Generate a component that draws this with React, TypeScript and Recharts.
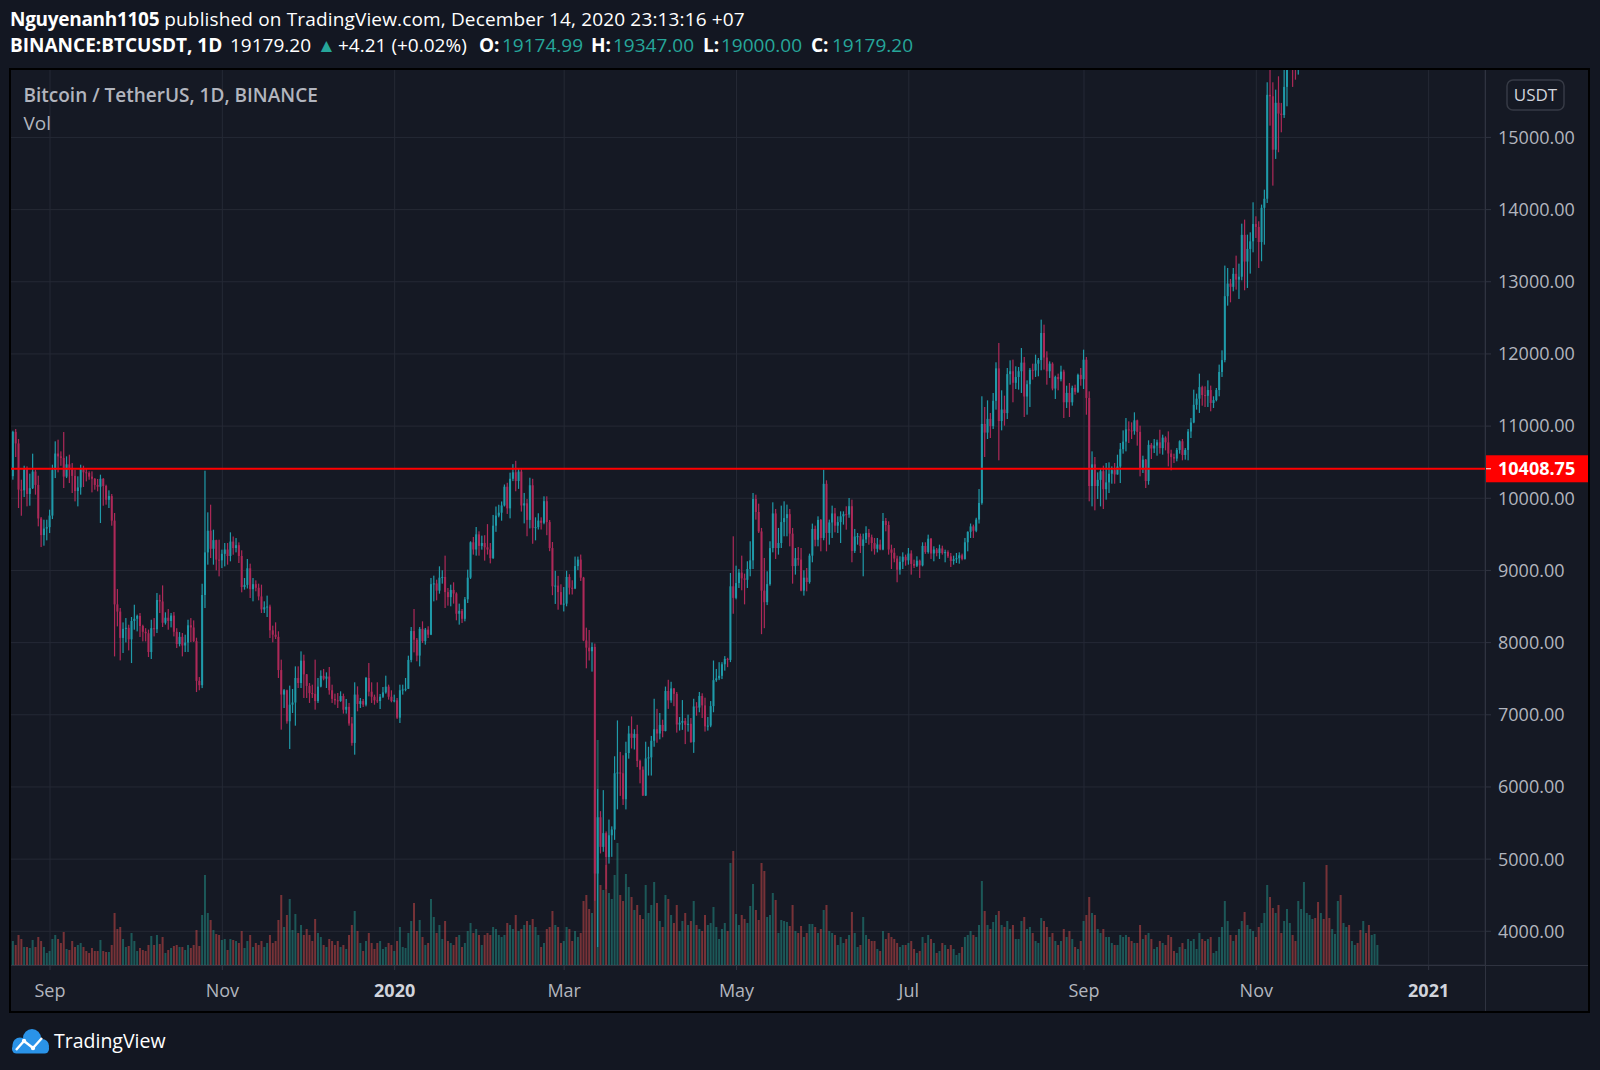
import React from "react";
import {
  Bar,
  CartesianGrid,
  ComposedChart,
  ReferenceLine,
  XAxis,
  YAxis,
} from "recharts";

// one row per day: [open, high, low, close, volume (k BTC)]
type Day = [number, number, number, number, number];

const firstDate = "2019-08-18";

const aug2019: Day[] = [
  [10216, 10512, 10073, 10306, 22], [10306, 10936, 10257, 10920, 24], [10920, 10960, 10572, 10760, 20],
  [10760, 10821, 9865, 10120, 30], [10120, 10257, 9758, 10110, 26], [10110, 10451, 10017, 10400, 18],
  [10400, 10442, 9888, 10060, 18], [10060, 10341, 9897, 10140, 17], [10140, 10618, 10128, 10370, 25],
  [10370, 10396, 10050, 10185, 18], [10185, 10313, 9611, 9720, 28], [9720, 9740, 9324, 9490, 24],
  [9490, 9703, 9343, 9580, 18], [9580, 9703, 9417, 9600, 12],
];
const sep2019: Day[] = [
  [9600, 9842, 9518, 9760, 14], [9760, 10465, 9712, 10390, 26], [10390, 10789, 10280, 10620, 30],
  [10620, 10812, 10359, 10580, 26], [10580, 10650, 10450, 10560, 22], [10560, 10918, 10142, 10300, 33],
  [10300, 10581, 10280, 10470, 16], [10470, 10604, 10211, 10400, 15], [10400, 10488, 10073, 10310, 24],
  [10310, 10396, 9957, 10100, 18], [10100, 10304, 9888, 10150, 20], [10150, 10465, 10050, 10420, 22],
  [10420, 10451, 10156, 10360, 18], [10360, 10419, 10234, 10350, 14], [10350, 10373, 10257, 10300, 12],
  [10300, 10373, 10082, 10270, 17], [10270, 10280, 10119, 10185, 14], [10185, 10267, 10096, 10160, 14],
  [10160, 10327, 9657, 10270, 25], [10270, 10280, 9897, 10170, 14], [10170, 10188, 9911, 9980, 13],
  [9980, 10110, 9865, 10030, 13], [10030, 10059, 9620, 9690, 20], [9690, 9796, 7809, 8530, 52],
  [8530, 8742, 8225, 8430, 36], [8430, 8480, 7754, 8065, 38], [8065, 8280, 7856, 8190, 26],
  [8190, 8340, 8003, 8205, 18], [8205, 8248, 7892, 8045, 19], [8045, 8355, 7717, 8300, 32],
];
const oct2019: Day[] = [
  [8300, 8525, 8179, 8330, 24], [8330, 8387, 8156, 8370, 14], [8370, 8410, 8078, 8230, 17],
  [8230, 8248, 8017, 8150, 15], [8150, 8200, 8017, 8130, 14], [8130, 8180, 7800, 7870, 20],
  [7870, 8317, 7773, 8200, 29], [8200, 8340, 8086, 8185, 20], [8185, 8687, 8133, 8590, 30],
  [8590, 8664, 8410, 8570, 21], [8570, 8793, 8216, 8275, 28], [8275, 8420, 8250, 8345, 12],
  [8345, 8465, 8179, 8300, 15], [8300, 8410, 8211, 8375, 17], [8375, 8424, 8086, 8150, 19],
  [8150, 8200, 7925, 7980, 20], [7980, 8146, 7948, 8080, 18], [8080, 8133, 7809, 7960, 18],
  [7960, 8110, 7870, 8000, 15], [8000, 8317, 7870, 8240, 20], [8240, 8340, 8008, 8210, 17],
  [8210, 8308, 8008, 8020, 20], [8020, 8068, 7315, 7470, 35], [7470, 7523, 7340, 7410, 19],
  [7410, 8816, 7370, 8660, 50], [8660, 10382, 8479, 9250, 90], [9250, 9805, 9080, 9550, 52],
  [9550, 9911, 9172, 9300, 45], [9300, 9565, 9080, 9420, 35], [9420, 9426, 9001, 9150, 31],
  [9150, 9426, 8918, 9140, 30],
];
const nov2019: Day[] = [
  [9140, 9288, 9033, 9230, 25], [9230, 9380, 9056, 9290, 26], [9290, 9380, 9080, 9200, 15],
  [9200, 9528, 9126, 9400, 26], [9400, 9470, 9218, 9310, 25], [9310, 9449, 9250, 9350, 24],
  [9350, 9389, 9103, 9200, 22], [9200, 9279, 8697, 8770, 34], [8770, 8895, 8734, 8800, 17],
  [8800, 9159, 8750, 9030, 24], [9030, 9094, 8618, 8740, 30], [8740, 8895, 8572, 8810, 18],
  [8810, 8863, 8711, 8760, 22], [8760, 8817, 8586, 8640, 20], [8640, 8803, 8410, 8460, 24],
  [8460, 8572, 8410, 8490, 18], [8490, 8651, 8355, 8500, 22], [8500, 8526, 8064, 8170, 30],
  [8170, 8235, 8004, 8110, 22], [8110, 8281, 8050, 8080, 24], [8080, 8157, 7510, 7620, 45],
  [7620, 7764, 6794, 7280, 70], [7280, 7357, 7094, 7340, 38], [7340, 7348, 6877, 6910, 50],
  [6910, 7404, 6526, 7140, 66], [7140, 7357, 7025, 7170, 35], [7170, 7671, 6849, 7510, 51],
  [7510, 7671, 7371, 7440, 32], [7440, 7879, 7371, 7750, 40], [7750, 7833, 7233, 7560, 30],
];
const dec2019: Day[] = [
  [7560, 7565, 7233, 7400, 36], [7400, 7440, 7164, 7300, 30], [7300, 7417, 7233, 7290, 24],
  [7290, 7764, 7071, 7190, 46], [7190, 7510, 7164, 7390, 32], [7390, 7616, 7380, 7540, 28],
  [7540, 7635, 7478, 7500, 20], [7500, 7588, 7371, 7530, 18], [7530, 7662, 7279, 7340, 26],
  [7340, 7417, 7164, 7220, 24], [7220, 7293, 7140, 7200, 20], [7200, 7302, 7094, 7190, 24],
  [7190, 7325, 7180, 7260, 18], [7260, 7293, 7016, 7070, 20], [7070, 7219, 7016, 7110, 16],
  [7110, 7164, 6849, 6880, 30], [6880, 6969, 6572, 6610, 40], [6610, 7450, 6447, 7280, 54],
  [7280, 7394, 7048, 7150, 34], [7150, 7233, 7094, 7190, 22], [7190, 7219, 7108, 7140, 14],
  [7140, 7524, 7117, 7510, 24], [7510, 7718, 7256, 7320, 32], [7320, 7450, 7164, 7250, 22],
  [7250, 7279, 7140, 7200, 16], [7200, 7450, 7164, 7190, 22], [7190, 7288, 7080, 7250, 24],
  [7250, 7385, 7233, 7310, 16], [7310, 7542, 7293, 7390, 18], [7390, 7417, 7210, 7250, 22],
  [7250, 7339, 7173, 7190, 20],
];
const jan2020: Day[] = [
  [7190, 7279, 7173, 7200, 14], [7200, 7233, 6942, 6960, 24], [6960, 7417, 6886, 7340, 38],
  [7340, 7417, 7279, 7350, 18], [7350, 7510, 7325, 7360, 17], [7360, 7819, 7357, 7760, 32],
  [7760, 8216, 7727, 8160, 44], [8160, 8466, 7865, 8040, 62], [8040, 8064, 7741, 7820, 34],
  [7820, 8216, 7671, 8190, 45], [8190, 8295, 7995, 8020, 28], [8020, 8203, 7972, 8180, 20],
  [8180, 8226, 8064, 8110, 22], [8110, 8895, 8104, 8810, 66], [8810, 8928, 8572, 8820, 48],
  [8820, 8872, 8586, 8720, 32], [8720, 9057, 8678, 8900, 40], [8900, 9002, 8817, 8910, 26],
  [8910, 9205, 8480, 8700, 44], [8700, 8757, 8512, 8630, 24], [8630, 8803, 8503, 8730, 22],
  [8730, 8836, 8540, 8680, 20], [8680, 8697, 8309, 8400, 28], [8400, 8540, 8249, 8440, 30],
  [8440, 8466, 8272, 8330, 18], [8330, 8632, 8295, 8600, 22], [8600, 9011, 8549, 8900, 34],
  [8900, 9404, 8882, 9390, 42], [9390, 9464, 9219, 9290, 32], [9290, 9602, 9205, 9500, 36],
  [9500, 9542, 9205, 9340, 30],
];
const feb2020: Day[] = [
  [9340, 9482, 9288, 9380, 20], [9380, 9488, 9136, 9320, 30], [9320, 9642, 9220, 9290, 32],
  [9290, 9380, 9098, 9170, 30], [9170, 9769, 9160, 9620, 38], [9620, 9886, 9535, 9760, 36],
  [9760, 9910, 9736, 9800, 30], [9800, 9956, 9689, 9900, 28], [9900, 10191, 9886, 10160, 30],
  [10160, 10215, 9783, 9860, 42], [9860, 10355, 9722, 10270, 40], [10270, 10473, 10238, 10360, 36],
  [10360, 10519, 10097, 10240, 50], [10240, 10412, 10130, 10370, 34], [10370, 10402, 9816, 9900, 36],
  [9900, 10074, 9652, 9930, 40], [9930, 9989, 9474, 9700, 44], [9700, 10285, 9582, 10180, 40],
  [10180, 10270, 9370, 9590, 46], [9590, 9736, 9417, 9600, 38], [9600, 9792, 9567, 9690, 30],
  [9690, 9736, 9567, 9660, 18], [9660, 10027, 9640, 9960, 22], [9960, 10027, 9488, 9670, 36],
  [9670, 9699, 9267, 9310, 38], [9310, 9394, 8657, 8780, 54], [8780, 8995, 8536, 8790, 40],
  [8790, 8925, 8456, 8700, 38], [8700, 8808, 8520, 8530, 22],
];
const mar2020: Day[] = [
  [8530, 8770, 8432, 8540, 24], [8540, 8995, 8503, 8910, 38], [8910, 8948, 8667, 8760, 36],
  [8760, 8864, 8667, 8750, 24], [8750, 9192, 8741, 9060, 34], [9060, 9192, 9005, 9150, 28],
  [9150, 9220, 8855, 8900, 32], [8900, 8911, 8020, 8030, 64], [8030, 8207, 7644, 7930, 70],
  [7930, 8175, 7752, 7880, 56], [7880, 8001, 7598, 7940, 52], [7940, 7987, 4422, 4800, 175],
  [4800, 5970, 3782, 5580, 225], [5580, 5665, 5079, 5170, 80], [5170, 5956, 5102, 5360, 75],
  [5360, 5384, 4587, 5030, 100], [5030, 5548, 4938, 5330, 72], [5330, 5454, 5032, 5410, 66],
  [5410, 6425, 5267, 6190, 90], [6190, 6922, 5689, 6200, 122], [6200, 6486, 5876, 6190, 70],
  [6190, 6439, 5750, 5830, 64], [5830, 6627, 5689, 6470, 91], [6470, 6847, 6392, 6740, 78],
  [6740, 6978, 6533, 6680, 68], [6680, 6800, 6519, 6735, 55], [6735, 6861, 6275, 6360, 60],
  [6360, 6378, 6050, 6240, 50], [6240, 6284, 5876, 5880, 46], [5880, 6627, 5876, 6395, 80],
  [6395, 6557, 6158, 6410, 52],
];
const apr2020: Day[] = [
  [6410, 6707, 6158, 6640, 60], [6640, 7222, 6557, 6800, 83], [6800, 7082, 6613, 6740, 62],
  [6740, 7025, 6660, 6860, 44], [6860, 6932, 6688, 6775, 38], [6775, 7391, 6770, 7330, 70],
  [7330, 7485, 7082, 7200, 66], [7200, 7457, 7166, 7365, 50], [7365, 7370, 7119, 7290, 42],
  [7290, 7316, 6753, 6865, 60], [6865, 6969, 6781, 6890, 34], [6890, 7204, 6791, 6915, 44],
  [6915, 6955, 6594, 6860, 52], [6860, 7002, 6767, 6875, 40], [6875, 6955, 6613, 6620, 44],
  [6620, 7222, 6472, 7115, 64], [7115, 7175, 6987, 7100, 40], [7100, 7316, 7035, 7260, 36],
  [7260, 7298, 6955, 7130, 34], [7130, 7237, 6767, 6840, 50], [6840, 6969, 6781, 6850, 40],
  [6850, 7190, 6828, 7120, 42], [7120, 7752, 7035, 7480, 58], [7480, 7635, 7457, 7505, 38],
  [7505, 7729, 7480, 7540, 26], [7540, 7729, 7495, 7700, 36], [7700, 7813, 7612, 7775, 42],
  [7775, 7790, 7660, 7760, 34], [7760, 8965, 7730, 8780, 102], [8780, 9473, 8400, 8620, 114],
];
const may2020: Day[] = [
  [8620, 9066, 8600, 8825, 51], [8825, 9020, 8757, 8970, 40], [8970, 9205, 8725, 8890, 50],
  [8890, 8956, 8530, 8870, 46], [8870, 9127, 8757, 9020, 42], [9020, 9404, 8919, 9140, 59],
  [9140, 10073, 9020, 9990, 81], [9990, 10050, 9704, 9810, 55], [9810, 9925, 9519, 9540, 45],
  [9540, 9589, 8117, 8720, 102], [8720, 9173, 8200, 8560, 94], [8560, 8988, 8520, 8810, 48],
  [8810, 9404, 8789, 9310, 50], [9310, 9944, 9251, 9790, 72], [9790, 9852, 9159, 9310, 65],
  [9310, 9589, 9219, 9380, 32], [9380, 9898, 9311, 9670, 45], [9670, 9958, 9473, 9725, 44],
  [9725, 9912, 9473, 9780, 43], [9780, 9852, 9334, 9510, 39], [9510, 9589, 8817, 9060, 60],
  [9060, 9311, 8942, 9170, 34], [9170, 9325, 9066, 9150, 32], [9150, 9311, 8711, 8720, 39],
  [8720, 9002, 8651, 8900, 28], [8900, 9034, 8711, 8840, 32], [8840, 9233, 8817, 9205, 41],
  [9205, 9649, 9113, 9575, 41], [9575, 9621, 9334, 9425, 38], [9425, 9750, 9334, 9700, 32],
  [9700, 9713, 9265, 9450, 36],
];
const jun2020: Day[] = [
  [9450, 10397, 9418, 10200, 55], [10200, 10249, 9265, 9520, 60], [9520, 9704, 9357, 9665, 34],
  [9665, 9898, 9450, 9790, 32], [9790, 9866, 9528, 9620, 30], [9620, 9750, 9519, 9670, 20],
  [9670, 9819, 9380, 9750, 28], [9750, 9819, 9635, 9780, 22], [9780, 9889, 9565, 9775, 26],
  [9775, 10004, 9730, 9890, 30], [9890, 9981, 9113, 9270, 53], [9270, 9575, 9242, 9470, 32],
  [9470, 9519, 9357, 9475, 18], [9475, 9510, 9242, 9340, 20], [9340, 9510, 8919, 9430, 48],
  [9430, 9612, 9380, 9520, 30], [9520, 9575, 9357, 9460, 26], [9460, 9496, 9265, 9380, 24],
  [9380, 9450, 9219, 9300, 24], [9300, 9450, 9250, 9360, 16], [9360, 9427, 9280, 9290, 14],
  [9290, 9796, 9280, 9685, 34], [9685, 9727, 9542, 9630, 26], [9630, 9681, 9219, 9290, 32],
  [9290, 9357, 9020, 9245, 28], [9245, 9311, 9113, 9165, 26], [9165, 9205, 8836, 9010, 22],
  [9010, 9196, 8942, 9120, 18], [9120, 9251, 9020, 9190, 20], [9190, 9219, 9066, 9140, 20],
];
const jul2020: Day[] = [
  [9140, 9311, 9080, 9235, 22], [9235, 9279, 8942, 9090, 24], [9090, 9150, 9034, 9065, 16],
  [9065, 9196, 9048, 9135, 12], [9135, 9150, 8896, 9070, 14], [9070, 9390, 9057, 9340, 28],
  [9340, 9390, 9230, 9255, 22], [9255, 9496, 9233, 9440, 30], [9440, 9450, 9159, 9235, 26],
  [9235, 9334, 9127, 9290, 22], [9290, 9311, 9196, 9240, 12], [9240, 9357, 9159, 9305, 14],
  [9305, 9343, 9219, 9240, 22], [9240, 9288, 9113, 9255, 20], [9255, 9279, 9173, 9195, 16],
  [9195, 9242, 9048, 9130, 20], [9130, 9205, 9080, 9155, 16], [9155, 9242, 9103, 9170, 10],
  [9170, 9251, 9094, 9210, 12], [9210, 9233, 9140, 9160, 18], [9160, 9450, 9150, 9390, 28],
  [9390, 9542, 9265, 9535, 30], [9535, 9650, 9450, 9610, 34], [9610, 9635, 9450, 9550, 30],
  [9550, 9730, 9530, 9705, 28], [9705, 10128, 9650, 9935, 40], [9935, 11413, 9911, 11030, 84],
  [11030, 11265, 10572, 10910, 54], [10910, 11357, 10821, 11100, 40], [11100, 11182, 10835, 11000, 36],
  [11000, 11459, 10960, 11350, 43],
];
const aug2020: Day[] = [
  [11350, 11884, 11228, 11800, 50], [11800, 12152, 10526, 11070, 54], [11070, 11496, 10941, 11230, 40],
  [11230, 11422, 11006, 11180, 38], [11180, 11805, 11098, 11720, 44], [11720, 11911, 11574, 11760, 36],
  [11760, 11921, 11330, 11600, 40], [11600, 11828, 11514, 11680, 26], [11680, 11819, 11505, 11760, 26],
  [11760, 12082, 11459, 11880, 44], [11880, 11958, 11126, 11410, 48], [11410, 11634, 11158, 11580, 36],
  [11580, 11805, 11265, 11780, 38], [11780, 11865, 11644, 11770, 32], [11770, 11990, 11681, 11865, 24],
  [11865, 11944, 11690, 11915, 22], [11915, 12475, 11773, 12290, 47], [12290, 12406, 11782, 11950, 44],
  [11950, 12036, 11574, 11760, 38], [11760, 11897, 11667, 11865, 28], [11865, 11884, 11496, 11520, 32],
  [11520, 11699, 11376, 11680, 24], [11680, 11727, 11496, 11650, 20], [11650, 11837, 11620, 11755, 24],
  [11755, 11782, 11112, 11330, 36], [11330, 11560, 11251, 11460, 28], [11460, 11597, 11126, 11330, 34],
  [11330, 11560, 11283, 11530, 26], [11530, 11574, 11436, 11475, 18], [11475, 11727, 11459, 11710, 16],
  [11710, 11805, 11560, 11650, 24],
];
const sep2020: Day[] = [
  [11650, 12059, 11514, 11920, 44], [11920, 11958, 11158, 11390, 50], [11390, 11482, 9958, 10170, 68],
  [10170, 10650, 9888, 10470, 52], [10470, 10572, 9833, 10170, 50], [10170, 10359, 9990, 10255, 36],
  [10255, 10419, 9888, 10375, 32], [10375, 10452, 9851, 10125, 36], [10125, 10489, 9981, 10220, 28],
  [10220, 10498, 10073, 10340, 28], [10340, 10442, 10202, 10390, 22], [10390, 10489, 10202, 10330, 20],
  [10330, 10604, 10327, 10440, 20], [10440, 10766, 10211, 10680, 30], [10680, 10941, 10618, 10785, 28],
  [10785, 11112, 10650, 10955, 30], [10955, 11066, 10766, 10940, 28], [10940, 11052, 10821, 10930, 24],
  [10930, 11191, 10881, 11080, 22], [11080, 11089, 10729, 10920, 22], [10920, 11006, 10304, 10420, 40],
  [10420, 10590, 10350, 10535, 26], [10535, 10544, 10142, 10240, 30], [10240, 10803, 10188, 10740, 32],
  [10740, 10766, 10544, 10690, 26], [10690, 10821, 10627, 10730, 16], [10730, 10812, 10590, 10775, 18],
  [10775, 10950, 10618, 10695, 24], [10695, 10881, 10604, 10840, 22], [10840, 10858, 10664, 10775, 20],
];
const oct2020: Day[] = [
  [10775, 10927, 10442, 10620, 30], [10620, 10673, 10387, 10570, 28], [10570, 10618, 10489, 10550, 14],
  [10550, 10696, 10512, 10670, 12], [10670, 10803, 10618, 10790, 18], [10790, 10821, 10526, 10600, 22],
  [10600, 10696, 10535, 10670, 16], [10670, 10960, 10526, 10925, 26], [10925, 11112, 10835, 11050, 24],
  [11050, 11505, 11040, 11295, 26], [11295, 11450, 11228, 11380, 16], [11380, 11727, 11182, 11540, 32],
  [11540, 11560, 11283, 11430, 26], [11430, 11551, 11265, 11420, 24], [11420, 11634, 11265, 11500, 26],
  [11500, 11561, 11205, 11320, 28], [11320, 11413, 11251, 11360, 12], [11360, 11528, 11343, 11500, 14],
  [11500, 11852, 11413, 11750, 28], [11750, 12050, 11681, 11915, 38], [11915, 13224, 11884, 12800, 64],
  [12800, 13191, 12669, 12975, 44], [12975, 13039, 12715, 12930, 30], [12930, 13191, 12868, 13110, 24],
  [13110, 13362, 12891, 13030, 30], [13030, 13251, 12762, 13070, 36], [13070, 13805, 13020, 13650, 44],
  [13650, 13861, 12882, 13280, 53], [13280, 13653, 12914, 13455, 40], [13455, 13685, 13113, 13560, 36],
  [13560, 14101, 13408, 13800, 34],
];
const nov2020: Day[] = [
  [13800, 13907, 13607, 13760, 28], [13760, 13838, 13191, 13550, 38], [13550, 14069, 13284, 14025, 42],
  [14025, 14276, 13514, 14150, 52], [14150, 15764, 14092, 15590, 80], [15590, 15970, 15163, 15570, 68],
  [15570, 15764, 14332, 14830, 57], [14830, 15662, 14702, 15480, 52], [15480, 15847, 14794, 15330, 60],
  [15330, 15478, 15071, 15310, 32], [15310, 16000, 15270, 15700, 44], [15700, 16340, 15431, 16290, 56],
  [16290, 16480, 15960, 16320, 42], [16320, 16330, 15700, 16070, 30], [16070, 16140, 15800, 15960, 24],
  [15960, 16880, 15870, 16730, 64], [16730, 17860, 16560, 17660, 56], [17660, 18480, 17220, 17780, 83],
  [17780, 18180, 17340, 17820, 52], [17820, 18820, 17760, 18660, 50], [18660, 18965, 18020, 18700, 46],
  [18700, 18750, 17610, 18420, 47], [18420, 18770, 18000, 18370, 63], [18370, 19420, 18020, 19160, 52],
  [19160, 19480, 18500, 18720, 46], [18720, 19000, 16190, 17150, 100], [17150, 17460, 16460, 17140, 47],
  [17140, 17850, 16880, 17720, 36], [17720, 18350, 17520, 18180, 31], [18180, 19860, 18180, 19700, 64],
];
const dec2020: Day[] = [
  [19700, 19920, 18320, 18765, 70], [18765, 19310, 18500, 19205, 42], [19205, 19570, 18930, 19425, 38],
  [19425, 19500, 18570, 18650, 40], [18650, 19180, 18500, 19150, 24], [19150, 19420, 18860, 19360, 20],
  [19360, 19390, 18900, 19170, 22], [19170, 19290, 18200, 18320, 35], [18320, 18640, 17650, 18550, 44],
  [18550, 18560, 17910, 18250, 32], [18250, 18290, 17570, 18030, 40], [18030, 18950, 18020, 18800, 30],
  [18800, 19410, 18700, 19170, 31], [19174.99, 19347, 19000, 19179.2, 20],
];

const months = [
  aug2019, sep2019, oct2019, nov2019, dec2019, jan2020, feb2020, mar2020, apr2020,
  may2020, jun2020, jul2020, aug2020, sep2020, oct2020, nov2020, dec2020,
];

const priceTicks = [4000, 5000, 6000, 7000, 8000, 9000, 10000, 11000, 12000, 13000, 14000, 15000];
const tickDates = [
  "2019-09-01", "2019-11-01", "2020-01-01", "2020-03-01", "2020-05-01",
  "2020-07-01", "2020-09-01", "2020-11-01", "2021-01-01",
];
const tickLabels = ["Sep", "Nov", "2020", "Mar", "May", "Jul", "Sep", "Nov", "2021"];
const markLevel = 10408.75;

const UP = "#1f9aa9";
const DOWN = "#ad2958";
const VOL_UP = "rgba(38,166,154,0.45)";
const VOL_DOWN = "rgba(239,83,80,0.45)";
const GRID = "#252935";
const SEP = "#2f3340";
const TEXT = "#b2b5be";
const FONT = "'Open Sans', 'Liberation Sans', sans-serif";

const dayMs = 86400000;
const t0 = Date.parse(firstDate + "T00:00:00Z");
const tickIdx = tickDates.map((d) => (Date.parse(d + "T00:00:00Z") - t0) / dayMs);

const rows = months.flat().map((d, i) => ({
  i,
  o: d[0],
  h: d[1],
  l: d[2],
  c: d[3],
  v: d[4],
  hl: [d[2], d[1]],
}));

const last = rows[rows.length - 1];
const chg = last.c - last.o;
const chgPct = (chg / last.o) * 100;

const Candle = (props: any) => {
  const { x, y, width, height, payload } = props;
  if (x == null || y == null || !payload) return null;
  const top = Math.min(y, y + height);
  const bottom = Math.max(y, y + height);
  const span = payload.h - payload.l || 1;
  const py = (v: number) => top + ((payload.h - v) / span) * (bottom - top);
  const cx = x + width / 2;
  const color = payload.c >= payload.o ? UP : DOWN;
  const b1 = py(Math.max(payload.o, payload.c));
  const b2 = py(Math.min(payload.o, payload.c));
  return (
    <g>
      <rect x={cx - 0.6} y={top} width={1.2} height={Math.max(bottom - top, 1)} fill={color} />
      <rect x={cx - 1} y={b1} width={2} height={Math.max(b2 - b1, 1)} fill={color} />
    </g>
  );
};

const VolBar = (props: any) => {
  const { x, y, width, height, payload } = props;
  if (x == null || !height) return null;
  const cx = x + width / 2;
  return (
    <rect
      x={cx - 1}
      y={Math.min(y, y + height)}
      width={2}
      height={Math.abs(height)}
      fill={payload.c >= payload.o ? VOL_UP : VOL_DOWN}
    />
  );
};

const TimeTick = (props: any) => {
  const { x, y, payload } = props;
  const k = tickIdx.indexOf(payload.value);
  const label = k >= 0 ? tickLabels[k] : "";
  const isYear = /^\d{4}$/.test(label);
  return (
    <text
      x={x}
      y={y + 27}
      textAnchor="middle"
      fill={isYear ? "#d1d4dc" : TEXT}
      fontSize={18}
      fontWeight={isYear ? 700 : 400}
      fontFamily={FONT}
    >
      {label}
    </text>
  );
};

const PriceTag = (props: any) => {
  const vb = props.viewBox || {};
  const x0 = (vb.x ?? 0) + (vb.width ?? 0);
  const yy = vb.y ?? 0;
  return (
    <g>
      <rect x={x0} y={yy - 13.5} width={104} height={27} fill="#ff0000" />
      <line x1={x0} x2={x0 + 6} y1={yy} y2={yy} stroke="#ffffff" strokeWidth={1} />
      <text x={x0 + 13} y={yy + 6.5} fill="#ffffff" fontSize={18} fontWeight={700} fontFamily={FONT}>
        {markLevel.toFixed(2)}
      </text>
    </g>
  );
};

const X0 = -0.16;
const X1 = 521.95;

const App = () => {
  return (
    <div
      style={{
        position: "absolute",
        left: 0,
        top: 0,
        width: 1600,
        height: 1070,
        background: "#131722",
        overflow: "hidden",
        fontFamily: FONT,
      }}
    >
      <div style={{ position: "absolute", left: 10, top: 69, width: 1580, height: 944, background: "#151924" }}>
        <ComposedChart
          width={1580}
          height={944}
          data={rows}
          margin={{ top: 0, right: 0, bottom: 0, left: 0 }}
        >
          <XAxis
            xAxisId="t"
            type="number"
            dataKey="i"
            domain={[X0, X1]}
            allowDataOverflow
            ticks={tickIdx}
            interval={0}
            tick={<TimeTick />}
            tickSize={5}
            tickMargin={0}
            height={48}
            axisLine={false}
            tickLine={{ stroke: SEP }}
          />
          <XAxis xAxisId="tv" type="number" dataKey="i" domain={[X0, X1]} allowDataOverflow hide />
          <YAxis
            yAxisId="p"
            orientation="right"
            domain={[3533, 15948]}
            allowDataOverflow
            ticks={priceTicks}
            interval={0}
            width={105}
            tickSize={6}
            tickMargin={7}
            tick={{ fill: TEXT, fontSize: 18, fontFamily: FONT }}
            tickFormatter={(v: number) => v.toFixed(2)}
            axisLine={false}
            tickLine={{ stroke: SEP }}
          />
          <YAxis yAxisId="v" domain={[0, 896]} allowDataOverflow hide />
          <CartesianGrid xAxisId="t" yAxisId="p" stroke={GRID} />
          <Bar
            xAxisId="tv"
            yAxisId="v"
            dataKey="v"
            barSize={2}
            shape={<VolBar />}
            isAnimationActive={false}
          />
          <Bar
            xAxisId="t"
            yAxisId="p"
            dataKey="hl"
            barSize={2}
            shape={<Candle />}
            isAnimationActive={false}
          />
          <ReferenceLine
            xAxisId="t"
            yAxisId="p"
            y={markLevel}
            stroke="#ff0000"
            strokeWidth={2}
            label={<PriceTag />}
          />
        </ComposedChart>
      </div>

      <svg
        width={1600}
        height={1070}
        style={{ position: "absolute", left: 0, top: 0, pointerEvents: "none" }}
        fontFamily={FONT}
      >
        {/* separators and frame */}
        <line x1={10} x2={1589} y1={965.5} y2={965.5} stroke={SEP} strokeWidth={1} />
        <line x1={1485.5} x2={1485.5} y1={69} y2={1012} stroke={SEP} strokeWidth={1} />
        <rect x={10} y={69} width={1579} height={943} fill="none" stroke="#000000" strokeWidth={2} />

        {/* header */}
        <text x={10} y={25.5} fontSize={19} fill="#ffffff">
          <tspan fontWeight={700} letterSpacing={-0.3}>Nguyenanh1105</tspan>
          <tspan letterSpacing={0.15}> published on TradingView.com, December 14, 2020 23:13:16 +07</tspan>
        </text>
        <text y={52} fontSize={19} fill="#ffffff">
          <tspan x={10} fontWeight={700}>BINANCE:BTCUSDT, 1D</tspan>
          <tspan x={230}>{last.c.toFixed(2)}</tspan>
          <tspan x={317} fill="#26a69a">▲</tspan>
          <tspan x={338}>{`+${chg.toFixed(2)} (+${chgPct.toFixed(2)}%)`}</tspan>
          <tspan x={479} fontWeight={700}>O:</tspan>
          <tspan x={502} fill="#26a69a">{last.o.toFixed(2)}</tspan>
          <tspan x={591} fontWeight={700}>H:</tspan>
          <tspan x={613} fill="#26a69a">{last.h.toFixed(2)}</tspan>
          <tspan x={703} fontWeight={700}>L:</tspan>
          <tspan x={721} fill="#26a69a">{last.l.toFixed(2)}</tspan>
          <tspan x={811} fontWeight={700}>C:</tspan>
          <tspan x={832} fill="#26a69a">{last.c.toFixed(2)}</tspan>
        </text>

        {/* pane legend */}
        <text x={23.5} y={102} fontSize={19} fontWeight={600} fill={TEXT}>
          Bitcoin / TetherUS, 1D, BINANCE
        </text>
        <text x={23.5} y={129.5} fontSize={19} fill={TEXT}>
          Vol
        </text>

        {/* currency badge */}
        <rect x={1507} y={80} width={57} height={30} rx={6} fill="#151924" stroke="#363a45" strokeWidth={1.5} />
        <text x={1535.5} y={101} fontSize={17} fill="#d1d4dc" textAnchor="middle">
          USDT
        </text>

        {/* footer logo */}
        <g>
          <circle cx={32} cy={1038} r={9} fill="#2a93e8" />
          <circle cx={20} cy={1045} r={7.5} fill="#2a93e8" />
          <circle cx={42} cy={1046} r={7} fill="#2a93e8" />
          <rect x={12} y={1044} width={37} height={9.5} rx={4.5} fill="#2a93e8" />
          <polyline
            points="16,1050 24,1041 33,1048 42,1038"
            fill="none"
            stroke="#ffffff"
            strokeWidth={2.4}
            strokeLinejoin="round"
          />
          <circle cx={24} cy={1041} r={2.2} fill="#ffffff" />
          <circle cx={33} cy={1048} r={2.2} fill="#ffffff" />
        </g>
        <text x={54} y={1048} fontSize={19.5} fill="#ffffff">
          TradingView
        </text>
      </svg>
    </div>
  );
};

export default App;
